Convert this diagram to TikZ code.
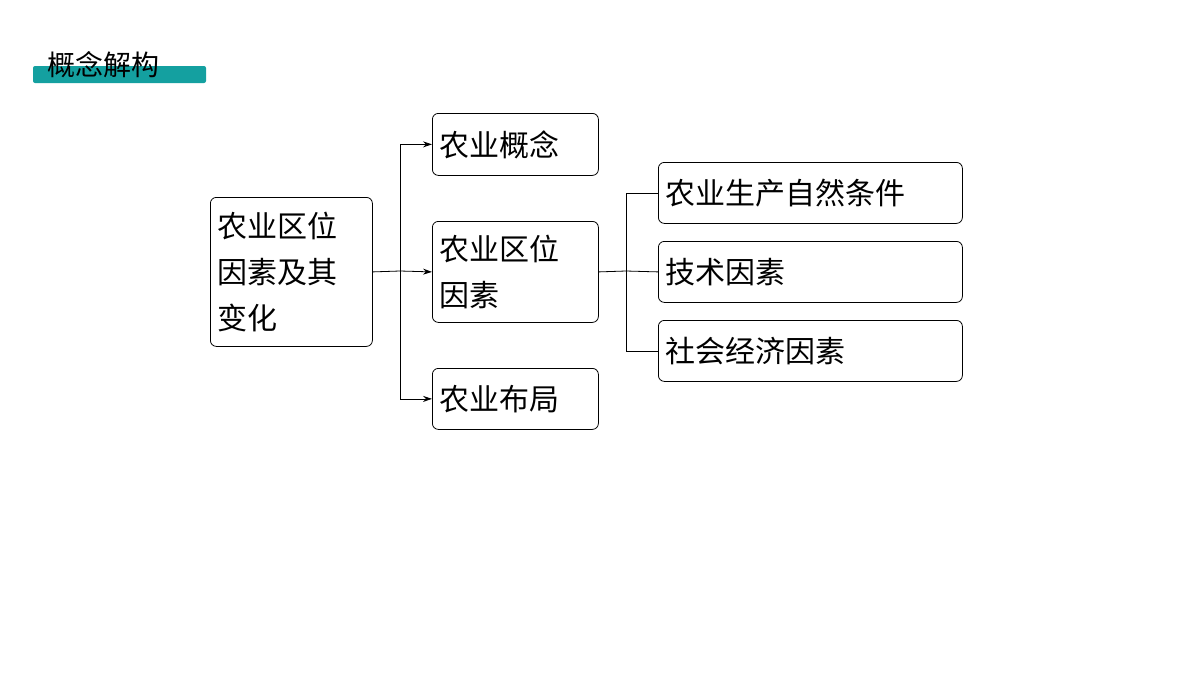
\documentclass[tikz,border=0pt]{standalone}
\usepackage{fontspec}
\setmainfont{Noto Sans CJK SC}
\usepackage{tikz}
\usetikzlibrary{arrows.meta}
\definecolor{teal1}{RGB}{20,160,160}

\begin{document}
\begin{tikzpicture}[
  x=1pt,y=-1pt,
  box/.style={draw,thick,rounded corners=6pt,anchor=north west,align=left,inner sep=0pt,
    font=\fontsize{30}{46}\selectfont},
  arr/.style={-{Stealth[length=9pt,width=6pt]},thick},
  ln/.style={thick}
  ]
\useasboundingbox (0,0) rectangle (1200,675);
% title
\fill[teal1,rounded corners=2pt] (33,66) rectangle (206,83);
\node[anchor=west,font=\fontsize{28}{30}\selectfont] (title) at (44,65) {概念解构};
% boxes
\node[box,minimum width=162pt,minimum height=149pt,text width=148pt] (A) at (210,197) {农业区位\\因素及其\\变化};
\node[box,minimum width=166pt,minimum height=62pt,text width=152pt] (B1) at (432,113) {农业概念};
\node[box,minimum width=166pt,minimum height=101pt,text width=152pt] (B2) at (432,221) {农业区位\\因素};
\node[box,minimum width=166pt,minimum height=61pt,text width=152pt] (B3) at (432,368) {农业布局};
\node[box,minimum width=304pt,minimum height=61pt,text width=290pt] (C1) at (658,162) {农业生产自然条件};
\node[box,minimum width=304pt,minimum height=61pt,text width=290pt] (C2) at (658,241) {技术因素};
\node[box,minimum width=304pt,minimum height=61pt,text width=290pt] (C3) at (658,320) {社会经济因素};
% connectors
\coordinate (j1) at (400,271);
\coordinate (j2) at (626,271);
\draw[ln] (A.east) -- (j1);
\draw[arr] (j1) |- (B1.west);
\draw[arr] (j1) -- (B2.west);
\draw[arr] (j1) |- (B3.west);
\draw[ln] (B2.east) -- (j2);
\draw[ln] (j2) |- (C1.west);
\draw[ln] (j2) -- (C2.west);
\draw[ln] (j2) |- (C3.west);
\end{tikzpicture}
\end{document}
